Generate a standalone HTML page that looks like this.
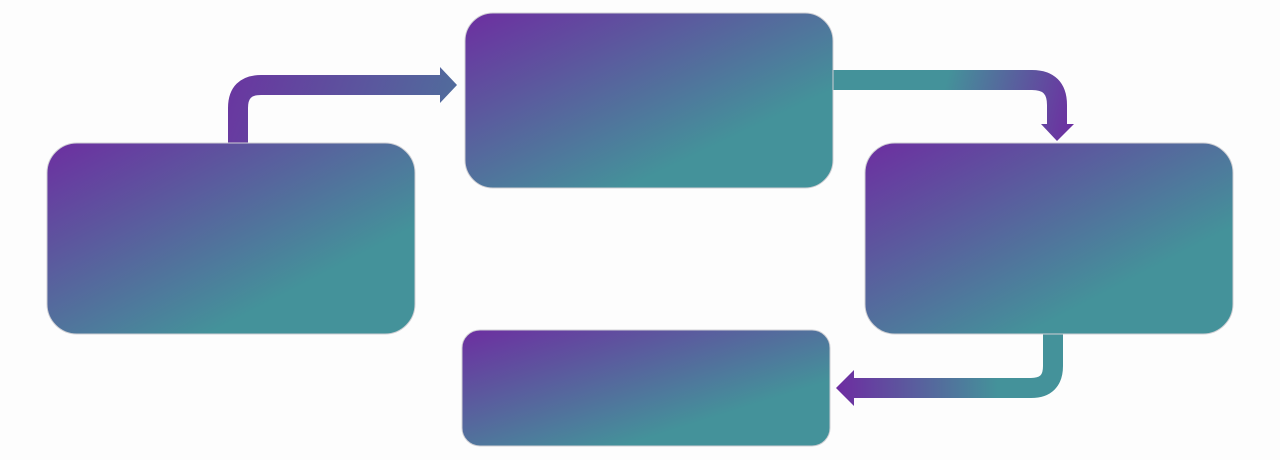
<!DOCTYPE html>
<html><head><meta charset="utf-8"><style>
html,body{margin:0;padding:0;background:#fdfdfd;}
svg{display:block;}
</style></head><body>
<svg width="1280" height="460" viewBox="0 0 1280 460" xmlns="http://www.w3.org/2000/svg">
<defs>
<linearGradient id="g" x1="0" y1="0" x2="1" y2="1">
<stop offset="0" stop-color="#6d2ea1"/>
<stop offset="0.72" stop-color="#44929a"/>
<stop offset="1" stop-color="#44929a"/>
</linearGradient>
<linearGradient id="a1" gradientUnits="userSpaceOnUse" x1="230" y1="70" x2="450" y2="150">
<stop offset="0" stop-color="#6a35a0"/>
<stop offset="1" stop-color="#4f6f9c"/>
</linearGradient>
<linearGradient id="a2" gradientUnits="userSpaceOnUse" x1="833" y1="80" x2="1070" y2="140">
<stop offset="0" stop-color="#44929a"/>
<stop offset="0.45" stop-color="#44929a"/>
<stop offset="1" stop-color="#6d2ea1"/>
</linearGradient>
<linearGradient id="a3" gradientUnits="userSpaceOnUse" x1="840" y1="388" x2="1065" y2="388">
<stop offset="0" stop-color="#6d2ea1"/>
<stop offset="0.7" stop-color="#44929a"/>
<stop offset="1" stop-color="#44929a"/>
</linearGradient>
</defs>
<!-- arrow 1 -->
<path d="M238 145 V108 Q238 85 261 85 H442" fill="none" stroke="url(#a1)" stroke-width="20"/>
<polygon points="440,67 457,85 440,103" fill="url(#a1)"/>
<!-- arrow 2 -->
<path d="M830 80 H1032 Q1057 80 1057 105 V126" fill="none" stroke="url(#a2)" stroke-width="20"/>
<polygon points="1041,124 1074,124 1057,141" fill="url(#a2)"/>
<!-- arrow 3 -->
<path d="M1053 330 V366 Q1053 388 1031 388 H852" fill="none" stroke="url(#a3)" stroke-width="20"/>
<polygon points="854,370 854,406 836,388" fill="url(#a3)"/>
<!-- boxes -->
<rect x="47" y="143" width="368" height="191" rx="30" fill="url(#g)" stroke="#cfcfd4" stroke-width="1"/>
<rect x="465" y="13" width="368" height="175" rx="28" fill="url(#g)" stroke="#cfcfd4" stroke-width="1"/>
<rect x="865" y="143" width="368" height="191" rx="30" fill="url(#g)" stroke="#cfcfd4" stroke-width="1"/>
<rect x="462" y="330" width="368" height="116" rx="18" fill="url(#g)" stroke="#cfcfd4" stroke-width="1"/>
</svg>
</body></html>
